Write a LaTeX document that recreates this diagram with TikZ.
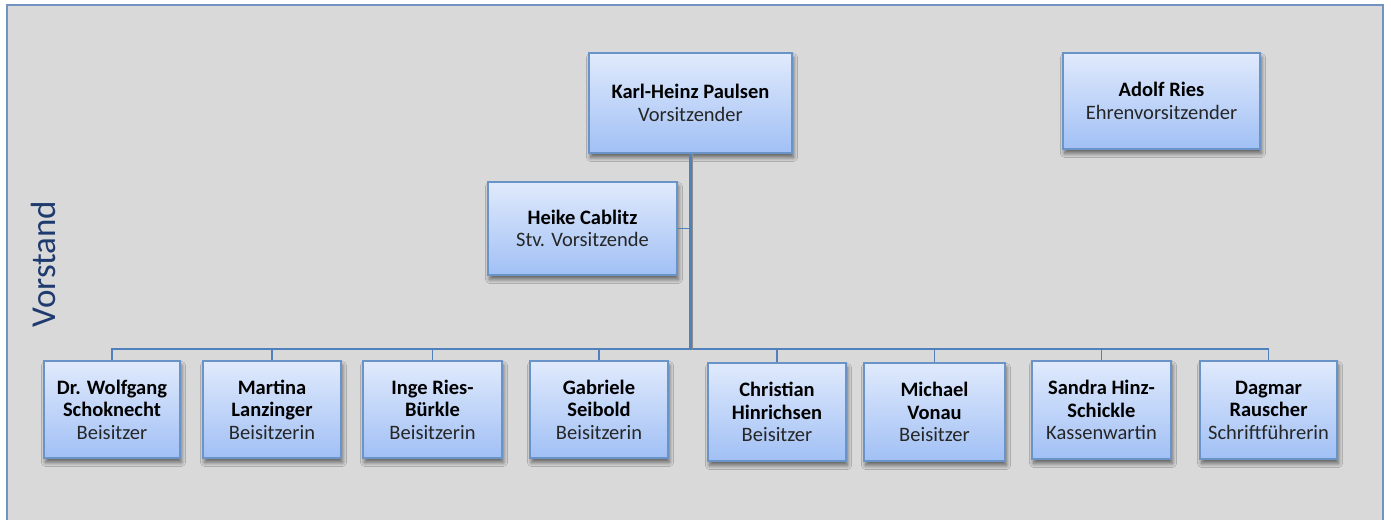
\documentclass[tikz,border=0pt]{standalone}
\usepackage{fontspec}
\setmainfont{Carlito}
\usetikzlibrary{shadows.blur}
\definecolor{bgcol}{HTML}{D9D9D9}
\definecolor{framecol}{HTML}{7292C2}
\definecolor{boxtop}{HTML}{E0EAFC}
\definecolor{boxbot}{HTML}{A1C0F5}
\definecolor{boxline}{HTML}{6A93C8}
\definecolor{linecol}{HTML}{4F81BD}
\definecolor{titlecol}{HTML}{1F3A6E}
\definecolor{rolecol}{HTML}{262626}
\tikzset{
  orgbox/.style={draw=boxline, line width=1.5pt, rectangle, top color=boxtop, bottom color=boxbot,
    align=center, inner sep=0pt,
    font=\fontsize{20.5}{22.5}\selectfont,
    blur shadow={shadow xshift=1.5pt, shadow yshift=-4.5pt, shadow blur radius=4pt, shadow blur steps=8, shadow opacity=55}},
  thinline/.style={draw=linecol, line width=1.6pt},
  thickline/.style={draw=linecol, line width=3.4pt},
}
\newcommand{\pname}[1]{\textbf{#1}}
\newcommand{\prole}[1]{\textcolor{rolecol}{#1}}
\begin{document}
\begin{tikzpicture}[x=1pt,y=-1pt]
\useasboundingbox (0,0) rectangle (1391,519);
\fill[white] (0,0) rectangle (1391,519);
\draw[framecol, line width=2pt, fill=bgcol] (7,5) rectangle (1383,540);
\node[rotate=90, text=titlecol, font=\fontsize{35}{40}\selectfont] (title) at (43,264) {Vorstand};

\node[orgbox, minimum width=203pt, minimum height=100pt] (kh) at (690.5,103) {\pname{Karl-Heinz Paulsen}\\\prole{Vorsitzender}};
\node[orgbox, minimum width=189pt, minimum height=93pt] (heike) at (582.5,228.5) {\pname{Heike Cablitz}\\\prole{Stv. Vorsitzende}};
\node[orgbox, minimum width=197pt, minimum height=96pt] (adolf) at (1161.5,101) {\pname{Adolf Ries}\\\prole{Ehrenvorsitzender}};

\node[orgbox, minimum width=136pt, minimum height=97pt] (wolf) at (112,409.5) {\pname{Dr. Wolfgang}\\\pname{Schoknecht}\\\prole{Beisitzer}};
\node[orgbox, minimum width=138pt, minimum height=97pt] (martina) at (272,409.5) {\pname{Martina}\\\pname{Lanzinger}\\\prole{Beisitzerin}};
\node[orgbox, minimum width=139pt, minimum height=97pt] (inge) at (432.5,409.5) {\pname{Inge Ries-}\\\pname{Bürkle}\\\prole{Beisitzerin}};
\node[orgbox, minimum width=138pt, minimum height=97pt] (gabriele) at (599,409.5) {\pname{Gabriele}\\\pname{Seibold}\\\prole{Beisitzerin}};
\node[orgbox, minimum width=138pt, minimum height=98pt] (christian) at (777,412) {\pname{Christian}\\\pname{Hinrichsen}\\\prole{Beisitzer}};
\node[orgbox, minimum width=141pt, minimum height=98pt] (michael) at (934.5,412) {\pname{Michael}\\\pname{Vonau}\\\prole{Beisitzer}};
\node[orgbox, minimum width=139pt, minimum height=98pt] (sandra) at (1101.5,410) {\pname{Sandra Hinz-}\\\pname{Schickle}\\\prole{Kassenwartin}};
\node[orgbox, minimum width=137pt, minimum height=98pt] (dagmar) at (1268.5,410) {\pname{Dagmar}\\\pname{Rauscher}\\\prole{Schriftführerin}};

\coordinate (bar) at (kh.south |- 0,349);
\foreach \c in {wolf,martina,inge,gabriele,christian,michael,sandra,dagmar}{
  \draw[thinline] (\c.north) |- (bar);
}
\draw[thinline] (heike.east) -- (heike.east -| kh.south);
\draw[draw=black!45, line width=3.4pt] ([xshift=1pt]kh.south) -- ([xshift=1pt,yshift=-1pt]bar);
\draw[thickline] (kh.south) -- ([yshift=-1pt]bar);
\end{tikzpicture}
\end{document}
